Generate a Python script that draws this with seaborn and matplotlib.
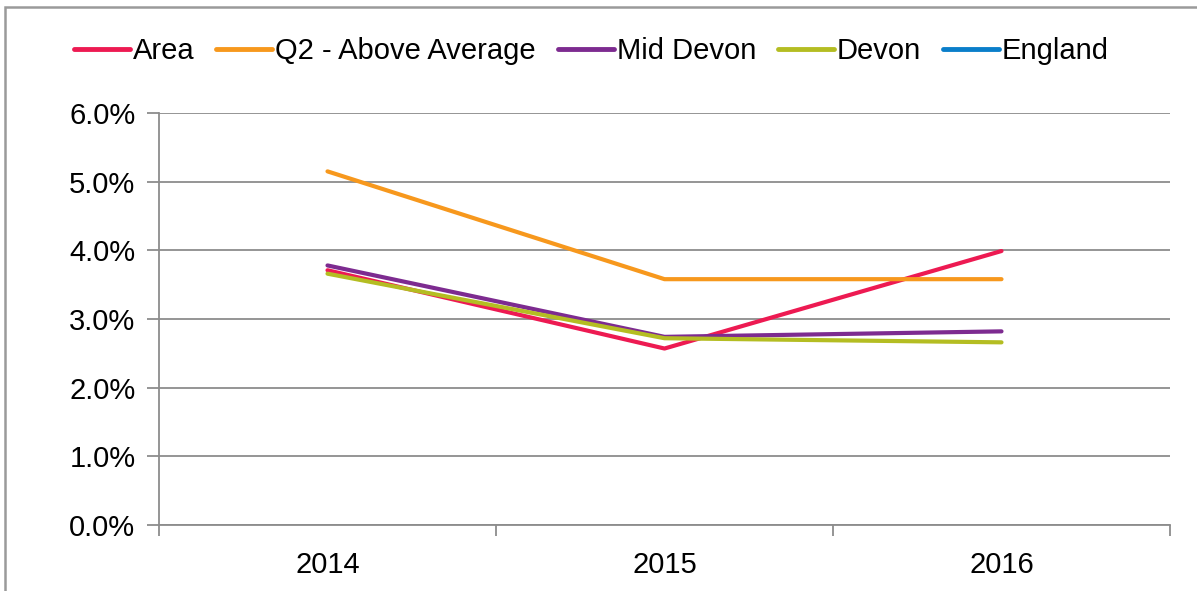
import matplotlib
matplotlib.use("Agg")
import matplotlib.pyplot as plt
from matplotlib.lines import Line2D
from matplotlib.patches import Rectangle
from matplotlib.ticker import FuncFormatter, FixedLocator
import seaborn as sns
import pandas as pd
import numpy as np

years = [2014, 2015, 2016]
series_names = ["Area", "Q2 - Above Average", "Mid Devon", "Devon", "England"]
area = [3.71, 2.57, 3.99]
q2_above_average = [5.15, 3.58, 3.58]
mid_devon = [3.78, 2.74, 2.82]
devon = [3.66, 2.72, 2.66]
england = [np.nan, np.nan, np.nan]
colors = ["#ED1A52", "#F7981D", "#7D2B90", "#B4BD22", "#0A7ECA"]

values = [area, q2_above_average, mid_devon, devon, england]
rows = []
for name, vals in zip(series_names, values):
    for y, v in zip(years, vals):
        rows.append({"year": y, "series": name, "value": v})
df = pd.DataFrame(rows)

sns.set_style("white")
plt.rcParams["font.family"] = ["Liberation Sans", "DejaVu Sans"]
plt.rcParams["text.color"] = "black"
plt.rcParams["xtick.labelcolor"] = "black"
plt.rcParams["ytick.labelcolor"] = "black"

fig = plt.figure(figsize=(11.97, 5.91), dpi=100)
ax = fig.add_axes([159 / 1197, 1 - 525 / 591, (1170 - 159) / 1197, (525 - 113) / 591])

palette = dict(zip(series_names, colors))
plot_df = df.dropna()
sns.lineplot(data=plot_df, x="year", y="value", hue="series",
             hue_order=[s for s in series_names if s in plot_df["series"].unique()],
             palette=palette, linewidth=3.0, ax=ax, legend=False,
             solid_capstyle="round", solid_joinstyle="round")

ax.set_ylim(0, 6)
ax.set_xlim(years[0] - 0.5, years[-1] + 0.5)
ax.set_yticks(np.arange(0, 6.01, 1.0))
ax.yaxis.set_major_formatter(FuncFormatter(lambda v, p: f"{v:.1f}%"))
ax.grid(axis="y", color="#8c8c8c", linewidth=1.3)
ax.set_axisbelow(True)

ax.xaxis.set_major_locator(FixedLocator([y - 0.5 for y in years] + [years[-1] + 0.5]))
ax.xaxis.set_minor_locator(FixedLocator(years))
ax.xaxis.set_major_formatter(FuncFormatter(lambda v, p: ""))
ax.xaxis.set_minor_formatter(FuncFormatter(lambda v, p: f"{int(round(v))}"))
ax.tick_params(axis="x", which="major", length=8, width=1.3, color="#8c8c8c", direction="out", bottom=True)
ax.tick_params(axis="x", which="minor", length=0, labelsize=21, pad=19, bottom=True, labelcolor="black")
ax.tick_params(axis="y", length=9, width=1.3, color="#8c8c8c", direction="out", labelsize=21, pad=8,
               left=True, labelcolor="black")

for s in ["top", "right"]:
    ax.spines[s].set_visible(False)
for s in ["left", "bottom"]:
    ax.spines[s].set_color("#8c8c8c")
    ax.spines[s].set_linewidth(1.3)
ax.set_xlabel("")
ax.set_ylabel("")

handles = [Line2D([0], [0], color=c, lw=3.5, solid_capstyle="round") for c in colors]
fig.legend(handles, series_names, loc="center", bbox_to_anchor=(591.5 / 1197, 1 - 51 / 591),
           ncol=5, frameon=False, fontsize=21, handlelength=1.92, handletextpad=0.1,
           columnspacing=0.75, borderaxespad=0)

fig.patches.append(Rectangle((5 / 1197, -0.1), 1.2, 1 - 7 / 591 + 0.1, transform=fig.transFigure,
                             fill=False, edgecolor="#9a9a9a", linewidth=1.8))

fig.savefig("out.png", dpi=100)
